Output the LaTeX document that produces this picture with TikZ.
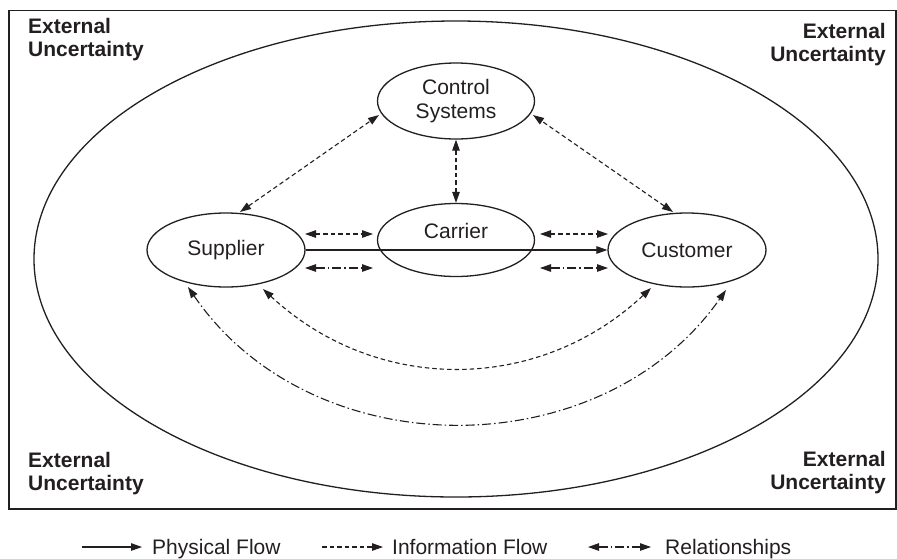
\documentclass[tikz,border=0pt]{standalone}
\usepackage{fontspec}
\setmainfont{Liberation Sans}
\usetikzlibrary{arrows.meta,shapes.geometric}
\definecolor{ink}{RGB}{35,31,32}

\begin{document}
\begin{tikzpicture}[x=1pt,y=-1pt,
  >={Triangle[length=11pt,width=7.5pt]},
  every node/.style={text=ink, font=\fontsize{21}{23.5}\selectfont},
  oval/.style={ellipse, draw=ink, line width=1.3pt, inner sep=0pt, align=center},
  solidln/.style={draw=ink, line width=1.1pt},
  dashln/.style={draw=ink, line width=1.1pt, dash pattern=on 4.5pt off 3pt},
  dotdashln/.style={draw=ink, line width=1.1pt, dash pattern=on 9pt off 3pt on 1.5pt off 3pt},
  corner/.style={font=\bfseries\fontsize{21}{23.5}\selectfont, inner sep=0pt},
  legend/.style={anchor=base west, inner sep=0pt}]

\useasboundingbox (0,0) rectangle (897,558);

% outer frame and the environment ellipse
\draw[ink, line width=1.5pt] (9,10.5) rectangle (896,509);
\node[oval, minimum width=844pt, minimum height=476pt] (world) at (456,259) {};

% corner labels
\node[corner, anchor=north west, align=left]  (ulc) at (28,18)  {External\\Uncertainty};
\node[corner, anchor=north east, align=right] (urc) at (886,23) {External\\Uncertainty};
\node[corner, anchor=north west, align=left]  (llc) at (28,452) {External\\Uncertainty};
\node[corner, anchor=north east, align=right] (lrc) at (886,451) {External\\Uncertainty};

% actors
\node[oval, minimum width=157pt, minimum height=76pt] (ctl) at (456,101) {Control\\Systems};
\node[oval, minimum width=158pt, minimum height=74pt] (sup) at (226,250) {Supplier};
\node[oval, minimum width=158pt, minimum height=74pt] (cus) at (687,250) {Customer};
\node[oval, minimum width=157pt, minimum height=73pt] (car) at (456,240) {};
\node (carlbl) at (456,231) {Carrier};

% information links with the control systems
\draw[dashln,<->] ([shift={(14,-38)}]sup.center) -- ([shift={(-77,14)}]ctl.center);
\draw[dashln,<->] ([shift={(-14,-38)}]cus.center) -- ([shift={(77,14)}]ctl.center);
\draw[dashln,<->] (car.north) -- (ctl.south);

% physical flow through the carrier
\draw[solidln,->] (sup.east) -- (cus.west);

% short links beside the carrier
\draw[dashln,<->] ([shift={(79,-16)}]sup.center) -- ([shift={(-83,-6)}]car.center);
\draw[dashln,<->] ([shift={(84,-6)}]car.center) -- ([shift={(-79,-16)}]cus.center);
\draw[dotdashln,<->] ([shift={(79,18)}]sup.center) -- ([shift={(-83,28)}]car.center);
\draw[dotdashln,<->] ([shift={(84,28)}]car.center) -- ([shift={(-79,18)}]cus.center);

% direct supplier-customer links
\draw[dashln,<->] ([shift={(37,39)}]sup.center)
  .. controls (376,394) and (538,394) .. ([shift={(-36,38)}]cus.center);
\draw[dotdashln,<->] ([shift={(-38,37)}]sup.center)
  .. controls (312,468) and (601,468) .. ([shift={(39,40)}]cus.center);

% legend
\node[legend] (lgphys) at (152,554) {Physical Flow};
\node[legend] (lginfo) at (392,554) {Information Flow};
\node[legend] (lgrel)  at (665,554) {Relationships};
\draw[solidln,->] ([shift={(-70,-7)}]lgphys.base west) -- ([shift={(-10,-7)}]lgphys.base west);
\draw[dashln,->] ([shift={(-70,-7)}]lginfo.base west) -- ([shift={(-9,-7)}]lginfo.base west);
\draw[dotdashln,<->] ([shift={(-77,-7)}]lgrel.base west) -- ([shift={(-14,-7)}]lgrel.base west);

\end{tikzpicture}
\end{document}
